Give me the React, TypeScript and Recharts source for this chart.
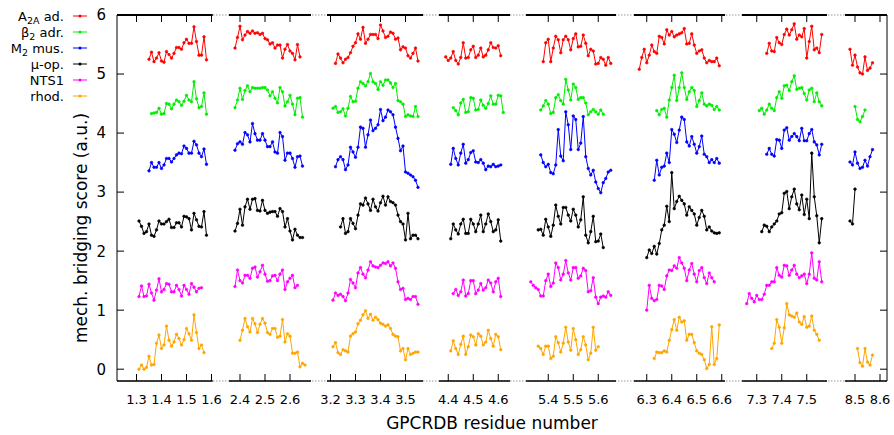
import React from "react";
import { LineChart, Line, XAxis, YAxis, ReferenceLine } from "recharts";

// broken x axis: residue range and ticks of every panel
const PANEL_DOMAINS = [
  [1.222, 1.605], [2.356, 2.684], [3.186, 3.57], [4.363, 4.647],
  [5.311, 5.671], [6.249, 6.613], [7.241, 7.581], [8.46, 8.628],
];
const PANEL_TICKS = [
  [1.3, 1.4, 1.5, 1.6], [2.4, 2.5, 2.6], [3.2, 3.3, 3.4, 3.5], [4.4, 4.5, 4.6],
  [5.4, 5.5, 5.6], [6.3, 6.4, 6.5, 6.6], [7.3, 7.4, 7.5], [8.5, 8.6],
];
const Y_TICKS = [0, 1, 2, 3, 4, 5, 6];
const Y_DOMAIN = [-0.2, 6];

// first residue of each run, then the scores of the run (one list per panel)
const A2A_START = [1.35, 2.38, 3.22, 4.39, 5.38, 6.27, 7.34, 8.48];
const A2A = [
  [5.25, 5.37, 5.21, 5.27, 5.36, 5.22, 5.2, 5.38, 5.33, 5.27, 5.35, 5.45, 5.45, 5.42, 5.53, 5.59, 5.52, 5.52, 5.8, 5.55, 5.32, 5.32, 5.63, 5.24],
  [5.44, 5.62, 5.81, 5.58, 5.66, 5.72, 5.69, 5.73, 5.69, 5.7, 5.67, 5.69, 5.6, 5.58, 5.51, 5.53, 5.44, 5.49, 5.49, 5.27, 5.42, 5.5, 5.39, 5.35, 5.24, 5.5, 5.29],
  [5.18, 5.34, 5.27, 5.19, 5.25, 5.28, 5.36, 5.47, 5.53, 5.68, 5.59, 5.79, 5.52, 5.59, 5.67, 5.67, 5.67, 5.6, 5.83, 5.73, 5.62, 5.64, 5.71, 5.69, 5.59, 5.61, 5.41, 5.46, 5.44, 5.31, 5.27, 5.35, 5.44, 5.22],
  [5.29, 5.23, 5.27, 5.38, 5.23, 5.17, 5.28, 5.53, 5.27, 5.28, 5.41, 5.47, 5.28, 5.32, 5.44, 5.29, 5.32, 5.41, 5.53, 5.45, 5.44, 5.48, 5.31],
  [5.21, 5.53, 5.59, 5.21, 5.44, 5.64, 5.58, 5.36, 5.58, 5.64, 5.58, 5.41, 5.6, 5.68, 5.46, 5.47, 5.66, 5.52, 5.31, 5.42, 5.39, 5.17, 5.18, 5.28, 5.25, 5.15, 5.28, 5.18],
  [5.08, 5.28, 5.42, 5.19, 5.32, 5.49, 5.38, 5.35, 5.64, 5.62, 5.51, 5.75, 5.66, 5.72, 5.63, 5.66, 5.68, 5.7, 5.77, 5.51, 5.52, 5.68, 5.49, 5.35, 5.39, 5.41, 5.27, 5.19, 5.23, 5.21, 5.21, 5.27, 5.14],
  [5.35, 5.52, 5.39, 5.38, 5.62, 5.53, 5.5, 5.67, 5.76, 5.66, 5.75, 5.85, 5.59, 5.66, 5.63, 5.77, 5.27, 5.55, 5.81, 5.41, 5.44, 5.36, 5.67],
  [5.42, 5.15, 5.32, 5.12, 5.02, 5.0, 5.29, 5.06, 5.1, 5.19],
];

const B2_START = [1.36, 2.38, 3.21, 4.42, 5.37, 6.34, 7.31, 8.5];
const B2 = [
  [4.33, 4.34, 4.35, 4.42, 4.32, 4.33, 4.5, 4.49, 4.41, 4.49, 4.56, 4.53, 4.47, 4.54, 4.64, 4.56, 4.53, 4.87, 4.58, 4.43, 4.45, 4.68, 4.32],
  [4.43, 4.56, 4.76, 4.57, 4.72, 4.8, 4.7, 4.77, 4.76, 4.76, 4.76, 4.77, 4.77, 4.73, 4.63, 4.7, 4.59, 4.51, 4.77, 4.7, 4.46, 4.53, 4.64, 4.49, 4.31, 4.59, 4.6, 4.27],
  [4.42, 4.45, 4.35, 4.36, 4.41, 4.29, 4.42, 4.62, 4.53, 4.54, 4.76, 4.87, 4.84, 4.8, 4.87, 5.01, 4.87, 4.84, 4.74, 4.87, 4.81, 4.9, 4.9, 4.85, 4.77, 4.84, 4.55, 4.53, 4.49, 4.28, 4.31, 4.29, 4.28, 4.45, 4.28],
  [4.43, 4.38, 4.31, 4.51, 4.57, 4.35, 4.36, 4.6, 4.59, 4.39, 4.4, 4.56, 4.47, 4.42, 4.5, 4.63, 4.49, 4.49, 4.64, 4.63, 4.35],
  [4.39, 4.46, 4.55, 4.49, 4.33, 4.35, 4.6, 4.65, 4.55, 4.49, 4.91, 4.73, 4.56, 4.83, 4.77, 4.57, 4.6, 4.6, 4.51, 4.31, 4.36, 4.4, 4.36, 4.32, 4.39, 4.32],
  [4.38, 4.31, 4.4, 4.42, 4.27, 4.56, 4.77, 4.98, 4.55, 4.77, 5.02, 4.77, 4.57, 4.7, 4.77, 4.72, 4.45, 4.55, 4.68, 4.49, 4.46, 4.49, 4.47, 4.4, 4.45, 4.39],
  [4.38, 4.42, 4.32, 4.39, 4.49, 4.42, 4.38, 4.6, 4.7, 4.59, 4.8, 4.81, 4.72, 4.87, 4.97, 4.74, 4.76, 4.77, 4.67, 4.56, 4.73, 4.76, 4.53, 4.68, 4.53, 4.46],
  [4.45, 4.23, 4.19, 4.28, 4.39],
];

const M2_START = [1.35, 2.38, 3.22, 4.41, 5.37, 6.33, 7.34, 8.48];
const M2 = [
  [3.36, 3.5, 3.42, 3.42, 3.5, 3.4, 3.46, 3.57, 3.57, 3.51, 3.57, 3.63, 3.66, 3.65, 3.78, 3.74, 3.66, 3.66, 3.86, 3.8, 3.66, 3.6, 3.73, 3.47],
  [3.71, 3.82, 3.85, 3.81, 4.01, 3.97, 3.85, 4.16, 3.99, 3.88, 3.88, 3.99, 3.88, 3.77, 3.77, 3.85, 3.68, 3.66, 4.01, 3.94, 3.54, 3.66, 3.66, 3.57, 3.42, 3.6, 3.61, 3.44],
  [3.43, 3.55, 3.6, 3.55, 3.38, 3.46, 3.76, 3.68, 3.59, 3.76, 4.1, 4.08, 3.76, 3.97, 4.22, 4.04, 4.08, 4.14, 4.4, 4.21, 4.27, 4.39, 4.36, 4.31, 4.1, 3.91, 3.7, 3.78, 3.34, 3.32, 3.29, 3.26, 3.2, 3.08],
  [3.47, 3.74, 3.57, 3.46, 3.66, 3.81, 3.49, 3.55, 3.67, 3.7, 3.51, 3.5, 3.55, 3.49, 3.38, 3.44, 3.43, 3.47, 3.43, 3.44, 3.46],
  [3.63, 3.5, 3.43, 3.47, 3.33, 3.31, 3.46, 4.06, 3.61, 3.53, 4.36, 4.14, 3.72, 4.29, 4.23, 3.72, 3.83, 4.28, 3.6, 3.4, 3.29, 3.37, 3.17, 3.06, 2.99, 3.16, 3.23, 3.34, 3.37],
  [3.2, 3.54, 3.29, 3.42, 3.44, 3.66, 3.5, 4.06, 3.98, 3.84, 4.05, 4.27, 4.23, 3.85, 3.78, 3.94, 3.81, 3.66, 3.77, 3.95, 3.64, 3.6, 3.5, 3.55, 3.5, 3.57, 3.49],
  [3.64, 3.74, 3.64, 3.61, 3.89, 3.88, 3.74, 4.05, 4.09, 3.88, 3.94, 3.99, 3.94, 3.87, 4.08, 3.87, 3.87, 3.99, 4.06, 3.85, 3.8, 3.63, 3.81],
  [3.51, 3.46, 3.68, 3.49, 3.4, 3.42, 3.54, 3.44, 3.6, 3.72],
];

const MU_START = [1.31, 2.38, 3.24, 4.41, 5.36, 6.3, 7.32, 8.48];
const MU = [
  [2.51, 2.42, 2.3, 2.33, 2.46, 2.27, 2.25, 2.36, 2.51, 2.46, 2.46, 2.5, 2.54, 2.4, 2.4, 2.48, 2.48, 2.41, 2.59, 2.58, 2.55, 2.36, 2.64, 2.53, 2.42, 2.41, 2.67, 2.27],
  [2.34, 2.47, 2.71, 2.44, 2.75, 2.88, 2.71, 2.88, 2.89, 2.69, 2.68, 2.86, 2.69, 2.64, 2.66, 2.67, 2.67, 2.59, 2.72, 2.67, 2.41, 2.55, 2.34, 2.19, 2.37, 2.27, 2.23, 2.23],
  [2.41, 2.55, 2.3, 2.33, 2.55, 2.47, 2.38, 2.61, 2.8, 2.78, 2.9, 2.8, 2.69, 2.88, 2.75, 2.68, 2.82, 2.93, 2.78, 2.92, 2.84, 2.82, 2.78, 2.61, 2.5, 2.46, 2.19, 2.64, 2.21, 2.27, 2.27, 2.21],
  [2.21, 2.46, 2.36, 2.29, 2.46, 2.54, 2.3, 2.3, 2.54, 2.46, 2.33, 2.46, 2.61, 2.33, 2.46, 2.63, 2.5, 2.33, 2.36, 2.53, 2.17],
  [2.36, 2.37, 2.27, 2.54, 2.41, 2.25, 2.44, 2.78, 2.59, 2.46, 2.74, 2.74, 2.61, 2.51, 2.71, 2.61, 2.41, 2.53, 2.92, 2.27, 2.14, 2.33, 2.59, 2.16, 2.17, 2.29, 2.06],
  [1.89, 2.02, 1.96, 2.08, 1.95, 2.13, 2.36, 2.44, 2.76, 2.5, 3.33, 2.72, 2.84, 2.93, 2.86, 2.8, 2.61, 2.75, 2.69, 2.63, 2.44, 2.57, 2.69, 2.59, 2.36, 2.41, 2.34, 2.31, 2.3, 2.31],
  [2.33, 2.44, 2.42, 2.33, 2.41, 2.46, 2.51, 2.63, 2.65, 2.98, 3.01, 2.72, 2.92, 3.05, 2.8, 2.7, 2.95, 2.62, 2.88, 2.55, 3.66, 2.92, 2.6, 2.14, 2.55],
  [2.51, 2.46, 3.05],
];

const NTS1_START = [1.31, 2.38, 3.21, 4.42, 5.33, 6.3, 7.26];
const NTS1 = [
  [1.23, 1.41, 1.23, 1.24, 1.44, 1.29, 1.17, 1.34, 1.53, 1.31, 1.35, 1.45, 1.44, 1.31, 1.31, 1.42, 1.35, 1.24, 1.42, 1.35, 1.27, 1.45, 1.39, 1.31, 1.37, 1.38],
  [1.4, 1.68, 1.5, 1.46, 1.59, 1.59, 1.54, 1.71, 1.73, 1.56, 1.65, 1.76, 1.61, 1.49, 1.5, 1.58, 1.59, 1.5, 1.61, 1.68, 1.35, 1.48, 1.54, 1.59, 1.38, 1.42],
  [1.17, 1.29, 1.25, 1.27, 1.23, 1.16, 1.29, 1.52, 1.46, 1.38, 1.63, 1.72, 1.61, 1.55, 1.68, 1.82, 1.75, 1.73, 1.72, 1.76, 1.8, 1.79, 1.82, 1.75, 1.8, 1.71, 1.48, 1.35, 1.37, 1.18, 1.2, 1.18, 1.23, 1.23, 1.1],
  [1.28, 1.35, 1.25, 1.31, 1.51, 1.24, 1.28, 1.5, 1.5, 1.28, 1.34, 1.45, 1.34, 1.38, 1.51, 1.46, 1.31, 1.48, 1.54, 1.23],
  [1.48, 1.42, 1.38, 1.35, 1.24, 1.24, 1.5, 1.61, 1.4, 1.46, 1.8, 1.72, 1.51, 1.61, 1.84, 1.63, 1.51, 1.72, 1.72, 1.54, 1.58, 1.71, 1.67, 1.31, 1.33, 1.55, 1.22, 1.11, 1.22, 1.24, 1.22, 1.31, 1.25],
  [1.0, 1.42, 1.2, 1.16, 1.18, 1.42, 1.41, 1.35, 1.58, 1.68, 1.67, 1.75, 1.71, 1.89, 1.8, 1.71, 1.5, 1.68, 1.79, 1.61, 1.48, 1.67, 1.72, 1.55, 1.45, 1.63, 1.55, 1.48],
  [1.11, 1.28, 1.2, 1.14, 1.25, 1.18, 1.18, 1.27, 1.42, 1.42, 1.48, 1.48, 1.72, 1.59, 1.56, 1.76, 1.75, 1.59, 1.68, 1.76, 1.61, 1.55, 1.58, 1.61, 1.45, 1.61, 1.97, 1.54, 1.51, 1.82, 1.48],
];

const RHOD_START = [1.31, 2.4, 3.21, 4.41, 5.36, 6.33, 7.36, 8.51];
const RHOD = [
  [0.0, 0.07, 0.0, 0.03, 0.22, 0.07, 0.08, 0.44, 0.58, 0.35, 0.41, 0.73, 0.49, 0.39, 0.46, 0.59, 0.52, 0.41, 0.5, 0.69, 0.6, 0.49, 0.92, 0.62, 0.35, 0.41, 0.28],
  [0.49, 0.66, 0.86, 0.72, 0.63, 0.86, 0.77, 0.62, 0.76, 0.86, 0.78, 0.62, 0.59, 0.69, 0.69, 0.54, 0.56, 0.84, 0.46, 0.6, 0.56, 0.27, 0.27, 0.29, 0.04, 0.1, 0.07],
  [0.38, 0.45, 0.28, 0.25, 0.33, 0.31, 0.29, 0.56, 0.6, 0.63, 0.77, 0.83, 0.92, 0.99, 0.86, 0.93, 0.83, 0.88, 0.84, 0.78, 0.76, 0.73, 0.75, 0.69, 0.59, 0.56, 0.55, 0.31, 0.35, 0.16, 0.35, 0.25, 0.27, 0.29, 0.29],
  [0.31, 0.48, 0.35, 0.25, 0.42, 0.56, 0.25, 0.38, 0.58, 0.55, 0.41, 0.6, 0.56, 0.41, 0.46, 0.66, 0.52, 0.39, 0.59, 0.55, 0.33],
  [0.39, 0.35, 0.25, 0.39, 0.39, 0.18, 0.22, 0.55, 0.45, 0.29, 0.44, 0.71, 0.46, 0.32, 0.69, 0.5, 0.25, 0.33, 0.55, 0.41, 0.16, 0.27, 0.71, 0.32, 0.38],
  [0.18, 0.29, 0.28, 0.28, 0.31, 0.29, 0.49, 0.67, 0.84, 0.66, 0.88, 0.8, 0.82, 0.49, 0.59, 0.59, 0.45, 0.31, 0.27, 0.25, 0.16, 0.01, 0.08, 0.72, 0.08, 0.18, 0.75],
  [0.35, 0.44, 0.84, 0.71, 0.44, 0.7, 1.11, 0.92, 0.9, 0.88, 0.95, 0.8, 0.76, 0.89, 0.71, 0.73, 0.9, 0.66, 0.59, 0.49],
  [0.35, 0.11, 0.05, 0.35, 0.12, 0.07, 0.24],
];

const SERIES = [
  { id: "a2a", label: ["A", "2A", " ad."], color: "#ff0000", start: A2A_START, runs: A2A },
  { id: "b2", label: ["β", "2", " adr."], color: "#00ee00", start: B2_START, runs: B2 },
  { id: "m2", label: ["M", "2", " mus."], color: "#0000ff", start: M2_START, runs: M2 },
  { id: "mu", label: ["μ-op.", "", ""], color: "#000000", start: MU_START, runs: MU },
  { id: "nts1", label: ["NTS1", "", ""], color: "#ff00ff", start: NTS1_START, runs: NTS1 },
  { id: "rhod", label: ["rhod.", "", ""], color: "#ffa500", start: RHOD_START, runs: RHOD },
];

// layout (pixels)
const W = 894;
const H = 435;
const TOP = 15;
const BOTTOM = 381;
const LEFT = 117;
const RIGHT = 887;
const TICK_LEN = 7;
const PX_PER_UNIT = 250;
const PANEL_LEFT = [117, 229, 327, 439, 526, 634, 742, 845];
const FONT = "'DejaVu Sans', sans-serif";

// tick length in data units of each axis
const X_TICK = TICK_LEN / PX_PER_UNIT;
const Y_TICK = (TICK_LEN * (Y_DOMAIN[1] - Y_DOMAIN[0])) / (BOTTOM - TOP);

const toRun = (start: number, vals: number[]) =>
  vals.map((y, i) => ({ x: Math.round(start * 100 + i) / 100, y }));

const renderXTick = (props: any) => {
  const { x, y, payload } = props;
  return (
    <text x={x} y={y} dy="0.71em" textAnchor="middle" fontSize={13} fill="#000" fontFamily={FONT}>
      {Number(payload.value).toFixed(1)}
    </text>
  );
};

const renderYTick = (props: any) => {
  const { x, y, payload } = props;
  return (
    <text x={x} y={y} dy="0.36em" textAnchor="end" fontSize={15} fill="#000" fontFamily={FONT}>
      {payload.value}
    </text>
  );
};

function Panel({ idx }: { idx: number }) {
  const [d0, d1] = PANEL_DOMAINS[idx];
  const left = PANEL_LEFT[idx];
  const right = left + (d1 - d0) * PX_PER_UNIT;
  const first = idx === 0;
  const last = idx === PANEL_DOMAINS.length - 1;
  const yW = first ? 78 : 0;
  const [y0, y1] = Y_DOMAIN;
  const ticks = PANEL_TICKS[idx];

  return (
    <div style={{ position: "absolute", left: 0, top: 0 }}>
      <LineChart
        width={W}
        height={H}
        margin={{ top: TOP, bottom: H - BOTTOM - 30, left: left - yW, right: W - right }}
      >
        <XAxis
          type="number"
          dataKey="x"
          domain={[d0, d1]}
          allowDataOverflow
          ticks={ticks}
          interval={0}
          height={30}
          tickSize={0}
          tickMargin={14}
          tick={renderXTick}
          tickLine={false}
          axisLine={{ stroke: "#000", strokeWidth: 1.5 }}
        />
        {first ? (
          <YAxis
            type="number"
            domain={Y_DOMAIN}
            allowDataOverflow
            ticks={Y_TICKS}
            interval={0}
            width={yW}
            tickSize={0}
            tickMargin={11}
            tick={renderYTick}
            tickLine={false}
            axisLine={{ stroke: "#000" }}
          />
        ) : (
          <YAxis hide type="number" domain={Y_DOMAIN} allowDataOverflow />
        )}

        {/* frame: top border, right border, inward ticks */}
        <ReferenceLine y={y1} stroke="#000" strokeWidth={2} ifOverflow="visible" />
        {last ? <ReferenceLine x={d1} stroke="#000" strokeWidth={1} ifOverflow="visible" /> : null}
        {ticks.map((t) => (
          <ReferenceLine
            key={`b${t}`}
            segment={[{ x: t, y: y0 }, { x: t, y: y0 + Y_TICK }]}
            stroke="#000"
            ifOverflow="visible"
          />
        ))}
        {ticks.map((t) => (
          <ReferenceLine
            key={`t${t}`}
            segment={[{ x: t, y: y1 }, { x: t, y: y1 - Y_TICK }]}
            stroke="#000"
            ifOverflow="visible"
          />
        ))}
        {first || last
          ? Y_TICKS.map((v) => (
              <ReferenceLine
                key={`y${v}`}
                segment={
                  first
                    ? [{ x: d0, y: v }, { x: d0 + X_TICK, y: v }]
                    : [{ x: d1 - X_TICK, y: v }, { x: d1, y: v }]
                }
                stroke="#000"
                ifOverflow="visible"
              />
            ))
          : null}

        {SERIES.filter((s) => s.runs[idx]).map((s) => (
          <Line
            key={s.id}
            data={toRun(s.start[idx], s.runs[idx])}
            dataKey="y"
            type="linear"
            stroke={s.color}
            strokeWidth={1}
            dot={{ r: 1.3, fill: s.color, stroke: s.color, strokeWidth: 0.6 }}
            activeDot={false}
            isAnimationActive={false}
          />
        ))}
      </LineChart>
    </div>
  );
}

export default function App() {
  return (
    <div
      style={{
        position: "absolute",
        left: 0,
        top: 0,
        width: W,
        height: H,
        background: "#fff",
        fontFamily: FONT,
      }}
    >
      <svg width={W} height={H} style={{ position: "absolute", left: 0, top: 0 }}>
        <line x1={LEFT} x2={RIGHT} y1={TOP} y2={TOP} stroke="#999" strokeDasharray="1.5 1.5" />
        <line x1={LEFT} x2={RIGHT} y1={BOTTOM} y2={BOTTOM} stroke="#999" strokeDasharray="1.5 1.5" />
        <text
          transform="translate(87,228) rotate(-90)"
          textAnchor="middle"
          fontSize={17}
          fill="#000"
          fontFamily={FONT}
        >
          mech. bridging score (a.u.)
        </text>
        <text x={492} y={429} textAnchor="middle" fontSize={17} fill="#000" fontFamily={FONT}>
          GPCRDB residue number
        </text>
        {SERIES.map((s, i) => {
          const cy = 16 + i * 16;
          return (
            <g key={s.id}>
              <text x={64} y={cy + 4.6} textAnchor="end" fontSize={13} fill="#000" fontFamily={FONT}>
                {s.label[0]}
                {s.label[1] ? (
                  <tspan fontSize={9.5} dy={3}>
                    {s.label[1]}
                  </tspan>
                ) : null}
                {s.label[1] ? <tspan dy={-3}>{s.label[2]}</tspan> : null}
              </text>
              <line x1={73} x2={87} y1={cy} y2={cy} stroke={s.color} strokeWidth={1} />
              <circle cx={80} cy={cy} r={1.5} fill={s.color} />
            </g>
          );
        })}
      </svg>
      {PANEL_DOMAINS.map((_, i) => (
        <Panel key={i} idx={i} />
      ))}
    </div>
  );
}
